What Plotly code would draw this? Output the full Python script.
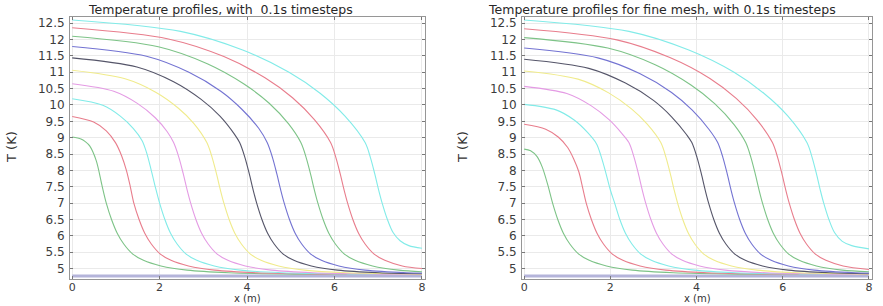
import plotly.graph_objects as go

# ---------------- data ----------------
x_ticks = [0, 2, 4, 6, 8]
y_ticks = [5, 5.5, 6, 6.5, 7, 7.5, 8, 8.5, 9, 9.5, 10, 10.5, 11, 11.5, 12, 12.5]

base_x = [0, 8]
base_T = [4.77, 4.77]

# Left panel: coarse mesh
L1_x = [0, 0.2, 0.3, 0.4, 0.55, 0.68, 0.78, 0.90, 1.03, 1.18, 1.38, 1.63, 2.03, 2.63, 3.58, 5.08, 8]
L1_T = [9.02, 8.96, 8.88, 8.75, 8.3, 7.55, 7.0, 6.5, 6.08, 5.75, 5.45, 5.25, 5.08, 4.95, 4.87, 4.83, 4.82]
L2_x = [0, 0.49, 0.78, 0.99, 1.13, 1.24, 1.33, 1.41, 1.53, 1.66, 1.81, 2.01, 2.26, 2.66, 3.26, 4.21, 5.71, 8]
L2_T = [9.65, 9.48, 9.21, 8.85, 8.45, 8.0, 7.5, 7.0, 6.5, 6.08, 5.75, 5.45, 5.25, 5.08, 4.95, 4.87, 4.83, 4.82]
L3_x = [0, 0.7, 1.1, 1.4, 1.6, 1.7, 1.8, 1.91, 2.0, 2.12, 2.25, 2.4, 2.6, 2.85, 3.25, 3.85, 4.8, 6.3, 8]
L3_T = [10.19, 9.99, 9.66, 9.28, 8.91, 8.55, 8.05, 7.45, 7.0, 6.5, 6.08, 5.75, 5.45, 5.25, 5.08, 4.95, 4.87, 4.83, 4.82]
L4_x = [0, 0.95, 1.49, 1.9, 2.17, 2.32, 2.44, 2.54, 2.63, 2.71, 2.83, 2.96, 3.11, 3.31, 3.56, 3.96, 4.56, 5.51, 7.01, 8]
L4_T = [10.65, 10.42, 10.05, 9.61, 9.19, 8.85, 8.4, 7.9, 7.4, 7.0, 6.5, 6.08, 5.75, 5.45, 5.25, 5.08, 4.95, 4.87, 4.83, 4.82]
L5_x = [0, 1.21, 1.91, 2.43, 2.78, 3.08, 3.2, 3.3, 3.39, 3.47, 3.59, 3.72, 3.87, 4.07, 4.32, 4.72, 5.32, 6.27, 8]
L5_T = [11.06, 10.8, 10.39, 9.9, 9.44, 8.85, 8.4, 7.9, 7.4, 7.0, 6.5, 6.08, 5.75, 5.45, 5.25, 5.08, 4.95, 4.87, 4.83]
L6_x = [0, 1.48, 2.32, 2.95, 3.38, 3.71, 3.83, 3.95, 4.05, 4.14, 4.22, 4.34, 4.47, 4.62, 4.82, 5.07, 5.47, 6.07, 7.02, 8]
L6_T = [11.44, 11.16, 10.71, 10.17, 9.66, 9.11, 8.85, 8.4, 7.9, 7.4, 7.0, 6.5, 6.08, 5.75, 5.45, 5.25, 5.08, 4.95, 4.87, 4.84]
L7_x = [0, 1.7, 2.67, 3.4, 3.88, 4.27, 4.46, 4.58, 4.68, 4.77, 4.85, 4.97, 5.1, 5.25, 5.45, 5.7, 6.1, 6.7, 7.65, 8]
L7_T = [11.79, 11.49, 11.0, 10.42, 9.87, 9.28, 8.85, 8.4, 7.9, 7.4, 7.0, 6.5, 6.08, 5.75, 5.45, 5.25, 5.08, 4.95, 4.87, 4.86]
L8_x = [0, 1.97, 3.09, 3.93, 4.5, 4.95, 5.23, 5.35, 5.45, 5.54, 5.62, 5.74, 5.87, 6.02, 6.22, 6.47, 6.87, 7.47, 8]
L8_T = [12.1, 11.78, 11.26, 10.64, 10.06, 9.42, 8.85, 8.4, 7.9, 7.4, 7.0, 6.5, 6.08, 5.75, 5.45, 5.25, 5.08, 4.95, 4.9]
L9_x = [0, 2.2, 3.47, 4.41, 5.04, 5.54, 5.91, 6.03, 6.13, 6.22, 6.3, 6.42, 6.55, 6.7, 6.9, 7.15, 7.55, 8]
L9_T = [12.36, 12.02, 11.48, 10.83, 10.22, 9.55, 8.85, 8.4, 7.9, 7.4, 7.0, 6.5, 6.08, 5.75, 5.45, 5.25, 5.08, 5.0]
L10_x = [0, 2.48, 3.9, 4.96, 5.67, 6.24, 6.70, 6.82, 6.92, 7.01, 7.09, 7.21, 7.34, 7.5, 7.7, 8]
L10_T = [12.6, 12.25, 11.68, 11.0, 10.36, 9.66, 8.85, 8.4, 7.9, 7.4, 7.0, 6.5, 6.1, 5.85, 5.7, 5.62]

# Right panel: fine mesh
R1_x = [0, 0.15, 0.3, 0.42, 0.55, 0.66, 0.78, 0.91, 1.06, 1.26, 1.51, 1.91, 2.51, 3.46, 4.96, 8]
R1_T = [8.65, 8.6, 8.42, 8.1, 7.55, 7.0, 6.5, 6.08, 5.75, 5.45, 5.25, 5.08, 4.95, 4.87, 4.83, 4.82]
R2_x = [0, 0.5, 0.79, 1.01, 1.15, 1.27, 1.36, 1.44, 1.56, 1.69, 1.84, 2.04, 2.29, 2.69, 3.29, 4.24, 5.74, 8]
R2_T = [9.41, 9.26, 9.02, 8.7, 8.35, 7.95, 7.45, 7.0, 6.5, 6.08, 5.75, 5.45, 5.25, 5.08, 4.95, 4.87, 4.83, 4.82]
R3_x = [0, 0.74, 1.16, 1.47, 1.68, 1.78, 1.89, 2.0, 2.1, 2.22, 2.35, 2.5, 2.7, 2.95, 3.35, 3.95, 4.9, 6.4, 8]
R3_T = [10.02, 9.85, 9.54, 9.16, 8.81, 8.45, 7.95, 7.4, 7.0, 6.5, 6.08, 5.75, 5.45, 5.25, 5.08, 4.95, 4.87, 4.83, 4.82]
R4_x = [0, 0.99, 1.55, 1.97, 2.26, 2.43, 2.55, 2.65, 2.74, 2.82, 2.94, 3.07, 3.22, 3.42, 3.67, 4.07, 4.67, 5.62, 7.12, 8]
R4_T = [10.57, 10.35, 9.98, 9.55, 9.14, 8.85, 8.4, 7.9, 7.4, 7.0, 6.5, 6.08, 5.75, 5.45, 5.25, 5.08, 4.95, 4.87, 4.83, 4.82]
R5_x = [0, 1.25, 1.96, 2.49, 2.85, 3.17, 3.29, 3.39, 3.48, 3.56, 3.68, 3.81, 3.96, 4.16, 4.41, 4.81, 5.41, 6.36, 8]
R5_T = [11.04, 10.79, 10.37, 9.88, 9.42, 8.85, 8.4, 7.9, 7.4, 7.0, 6.5, 6.08, 5.75, 5.45, 5.25, 5.08, 4.95, 4.87, 4.83]
R6_x = [0, 1.5, 2.35, 3.0, 3.42, 3.77, 3.89, 4.01, 4.11, 4.2, 4.28, 4.4, 4.53, 4.68, 4.88, 5.13, 5.53, 6.13, 7.08, 8]
R6_T = [11.4, 11.12, 10.67, 10.14, 9.64, 9.09, 8.85, 8.4, 7.9, 7.4, 7.0, 6.5, 6.08, 5.75, 5.45, 5.25, 5.08, 4.95, 4.87, 4.84]
R7_x = [0, 1.71, 2.68, 3.42, 3.9, 4.29, 4.49, 4.61, 4.71, 4.8, 4.88, 5.0, 5.13, 5.28, 5.48, 5.73, 6.13, 6.73, 7.68, 8]
R7_T = [11.74, 11.44, 10.96, 10.38, 9.84, 9.25, 8.85, 8.4, 7.9, 7.4, 7.0, 6.5, 6.08, 5.75, 5.45, 5.25, 5.08, 4.95, 4.87, 4.86]
R8_x = [0, 1.94, 3.04, 3.87, 4.42, 4.87, 5.14, 5.26, 5.36, 5.45, 5.53, 5.65, 5.78, 5.93, 6.13, 6.38, 6.78, 7.38, 8]
R8_T = [12.06, 11.74, 11.23, 10.61, 10.04, 9.4, 8.85, 8.4, 7.9, 7.4, 7.0, 6.5, 6.08, 5.75, 5.45, 5.25, 5.08, 4.95, 4.9]
R9_x = [0, 2.15, 3.38, 4.31, 4.92, 5.41, 5.76, 5.88, 5.98, 6.07, 6.15, 6.27, 6.4, 6.55, 6.75, 7.0, 7.4, 8]
R9_T = [12.33, 11.99, 11.45, 10.81, 10.2, 9.53, 8.85, 8.4, 7.9, 7.4, 7.0, 6.5, 6.08, 5.75, 5.45, 5.25, 5.08, 4.97]
R10_x = [0, 2.43, 3.82, 4.87, 5.56, 6.12, 6.56, 6.68, 6.78, 6.87, 6.95, 7.07, 7.2, 7.38, 7.6, 8]
R10_T = [12.6, 12.25, 11.68, 11.0, 10.36, 9.66, 8.85, 8.4, 7.9, 7.4, 7.0, 6.5, 6.1, 5.83, 5.7, 5.6]

left_curves = [(L1_x, L1_T), (L2_x, L2_T), (L3_x, L3_T), (L4_x, L4_T), (L5_x, L5_T),
               (L6_x, L6_T), (L7_x, L7_T), (L8_x, L8_T), (L9_x, L9_T), (L10_x, L10_T)]
right_curves = [(R1_x, R1_T), (R2_x, R2_T), (R3_x, R3_T), (R4_x, R4_T), (R5_x, R5_T),
                (R6_x, R6_T), (R7_x, R7_T), (R8_x, R8_T), (R9_x, R9_T), (R10_x, R10_T)]

titles = ["Temperature profiles, with  0.1s timesteps",
          "Temperature profiles for fine mesh, with 0.1s timesteps"]

# ---------------- styling ----------------
C = {
    "blue": "rgb(115,115,210)",
    "green": "rgb(125,195,135)",
    "red": "rgb(232,125,140)",
    "cyan": "rgb(130,235,232)",
    "magenta": "rgb(228,155,228)",
    "yellow": "rgb(240,235,140)",
    "black": "rgb(85,85,105)",
}
curve_colors = [C["green"], C["red"], C["cyan"], C["magenta"], C["yellow"],
                C["black"], C["blue"], C["green"], C["red"], C["cyan"]]

W, H = 883, 306
FONT = "DejaVu Sans"

fig = go.Figure()

panels = [("x", "y", left_curves), ("x2", "y2", right_curves)]
for xa, ya, curves in panels:
    fig.add_trace(go.Scatter(x=base_x, y=base_T, mode="lines", xaxis=xa, yaxis=ya,
                             line=dict(color="rgb(180,180,218)", width=3),
                             showlegend=False, hoverinfo="skip"))
    for (xs, ts), col in zip(curves, curve_colors):
        fig.add_trace(go.Scatter(x=xs, y=ts, mode="lines", xaxis=xa, yaxis=ya,
                                 line=dict(color=col, width=1.1, shape="spline", smoothing=0.9),
                                 showlegend=False, hoverinfo="skip"))

x_dom = [[70 / W, 425 / W], [522 / W, 872 / W]]
y_dom = [1 - 279 / H, 1 - 17 / H]

axis_common = dict(
    showline=True, linecolor="rgb(150,150,150)", linewidth=1, mirror="ticks",
    ticks="inside", ticklen=3, tickcolor="rgb(120,120,120)",
    showgrid=True, gridcolor="rgb(234,234,234)", gridwidth=1,
    zeroline=False, tickfont=dict(family=FONT, size=12, color="rgb(60,60,60)"),
)

layout = dict(
    width=W, height=H, margin=dict(l=0, r=0, t=0, b=0),
    paper_bgcolor="white", plot_bgcolor="white", showlegend=False,
)
for i, (xn, yn) in enumerate([("xaxis", "yaxis"), ("xaxis2", "yaxis2")]):
    ya_name = "y" if i == 0 else "y2"
    xa_name = "x" if i == 0 else "x2"
    layout[xn] = dict(axis_common, domain=x_dom[i], range=[-0.05, 8.07],
                      tickvals=x_ticks, anchor=ya_name, ticklabelstandoff=-2,
                      tickfont=dict(family=FONT, size=11, color="rgb(60,60,60)"))
    layout[yn] = dict(axis_common, domain=y_dom, range=[4.68, 12.69],
                      tickvals=y_ticks, anchor=xa_name, ticklabelstandoff=2)
fig.update_layout(**layout)

ann = []
for i in range(2):
    cx = (x_dom[i][0] + x_dom[i][1]) / 2
    ann.append(dict(text=titles[i], x=(220 if i == 0 else 662) / W, y=1,
                    xref="paper", yref="paper", xanchor="center", yanchor="top",
                    showarrow=False, font=dict(family=FONT, size=12.5, color="rgb(40,40,40)")))
    ann.append(dict(text="x (m)", x=cx, y=0, xref="paper", yref="paper",
                    xanchor="center", yanchor="bottom", showarrow=False,
                    font=dict(family=FONT, size=10, color="rgb(50,50,50)")))
    ann.append(dict(text="T (K)", x=(11 if i == 0 else 462) / W, y=1 - 147 / H,
                    xref="paper", yref="paper", xanchor="center", yanchor="middle",
                    textangle=-90, showarrow=False,
                    font=dict(family=FONT, size=13, color="rgb(50,50,50)")))
fig.update_layout(annotations=ann)

fig.write_html("out.html")
